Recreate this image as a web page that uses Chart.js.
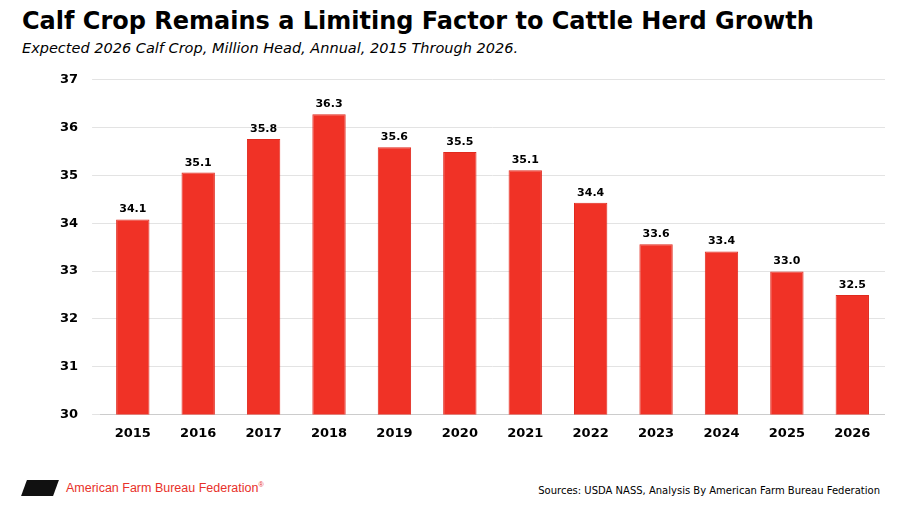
<!DOCTYPE html>
<html>
<head>
<meta charset="utf-8">
<script src="https://cdn.jsdelivr.net/npm/chart.js@4"></script>
<style>
  body { margin: 0; width: 900px; height: 506px; background: #fff; font-family: "DejaVu Sans", Verdana, sans-serif; position: relative; overflow: hidden; }
  h1 { position: absolute; left: 22px; top: 7px; margin: 0; font-size: 24px; font-weight: bold; color: #000; }
  .sub { position: absolute; left: 22px; top: 40px; font-size: 14.5px; font-style: italic; color: #000; }
  .chartbox { position: absolute; left: 46px; top: 58px; width: 839px; height: 386px; }
  .logo { position: absolute; left: 24px; top: 480px; display: flex; align-items: center; }
  .mark { width: 32px; height: 16px; background: #111; transform: skewX(-20deg); margin-right: 10px; }
  .logo span { color: #e8312a; font-size: 12.5px; font-family: "Liberation Sans", Arial, sans-serif; }
  .src { position: absolute; right: 20px; top: 485px; font-size: 10px; color: #000; }
</style>
</head>
<body>
<h1>Calf Crop Remains a Limiting Factor to Cattle Herd Growth</h1>
<div class="sub">Expected 2026 Calf Crop, Million Head, Annual, 2015 Through 2026.</div>
<div class="chartbox"><canvas id="c"></canvas></div>
<div class="logo"><div class="mark"></div><span>American Farm Bureau Federation<sup style="font-size:7px">®</sup></span></div>
<div class="src">Sources: USDA NASS, Analysis By American Farm Bureau Federation</div>
<script>
const years = ["2015","2016","2017","2018","2019","2020","2021","2022","2023","2024","2025","2026"];
const calfCrop = [34.08, 35.06, 35.76, 36.28, 35.59, 35.49, 35.11, 34.43, 33.56, 33.41, 32.99, 32.5];
const yTicks = [30, 31, 32, 33, 34, 35, 36, 37];

const labelPlugin = {
  id: "labels",
  afterDatasetsDraw(chart) {
    const ctx = chart.ctx;
    ctx.save();
    ctx.font = "bold 11px 'DejaVu Sans'";
    ctx.fillStyle = "#000";
    ctx.textAlign = "center";
    chart.getDatasetMeta(0).data.forEach((bar, i) => {
      ctx.fillText(calfCrop[i].toFixed(1), bar.x, bar.y - 7);
    });
    ctx.restore();
  }
};

new Chart(document.getElementById("c"), {
  type: "bar",
  data: {
    labels: years,
    datasets: [{
      data: calfCrop,
      backgroundColor: "#f03226",
      borderColor: "#e02a1e",
      borderWidth: 1,
      categoryPercentage: 0.85,
      barPercentage: 0.6,
    }],
  },
  options: {
    responsive: true,
    maintainAspectRatio: false,
    animation: false,
    layout: { padding: { top: 8 } },
    plugins: { legend: { display: false }, tooltip: { enabled: false } },
    scales: {
      x: {
        grid: { display: false },
        border: { color: "#ccc" },
        ticks: { color: "#000", font: { size: 13, weight: "bold", family: "DejaVu Sans" } },
      },
      y: {
        min: 30, max: 37,
        afterBuildTicks(axis) { axis.ticks = yTicks.map(v => ({ value: v })); },
        grid: { color: "#e3e3e3" },
        border: { display: false },
        ticks: { color: "#000", padding: 14, font: { size: 13, weight: "bold", family: "DejaVu Sans" } },
      },
    },
  },
  plugins: [labelPlugin],
});
</script>
</body>
</html>
